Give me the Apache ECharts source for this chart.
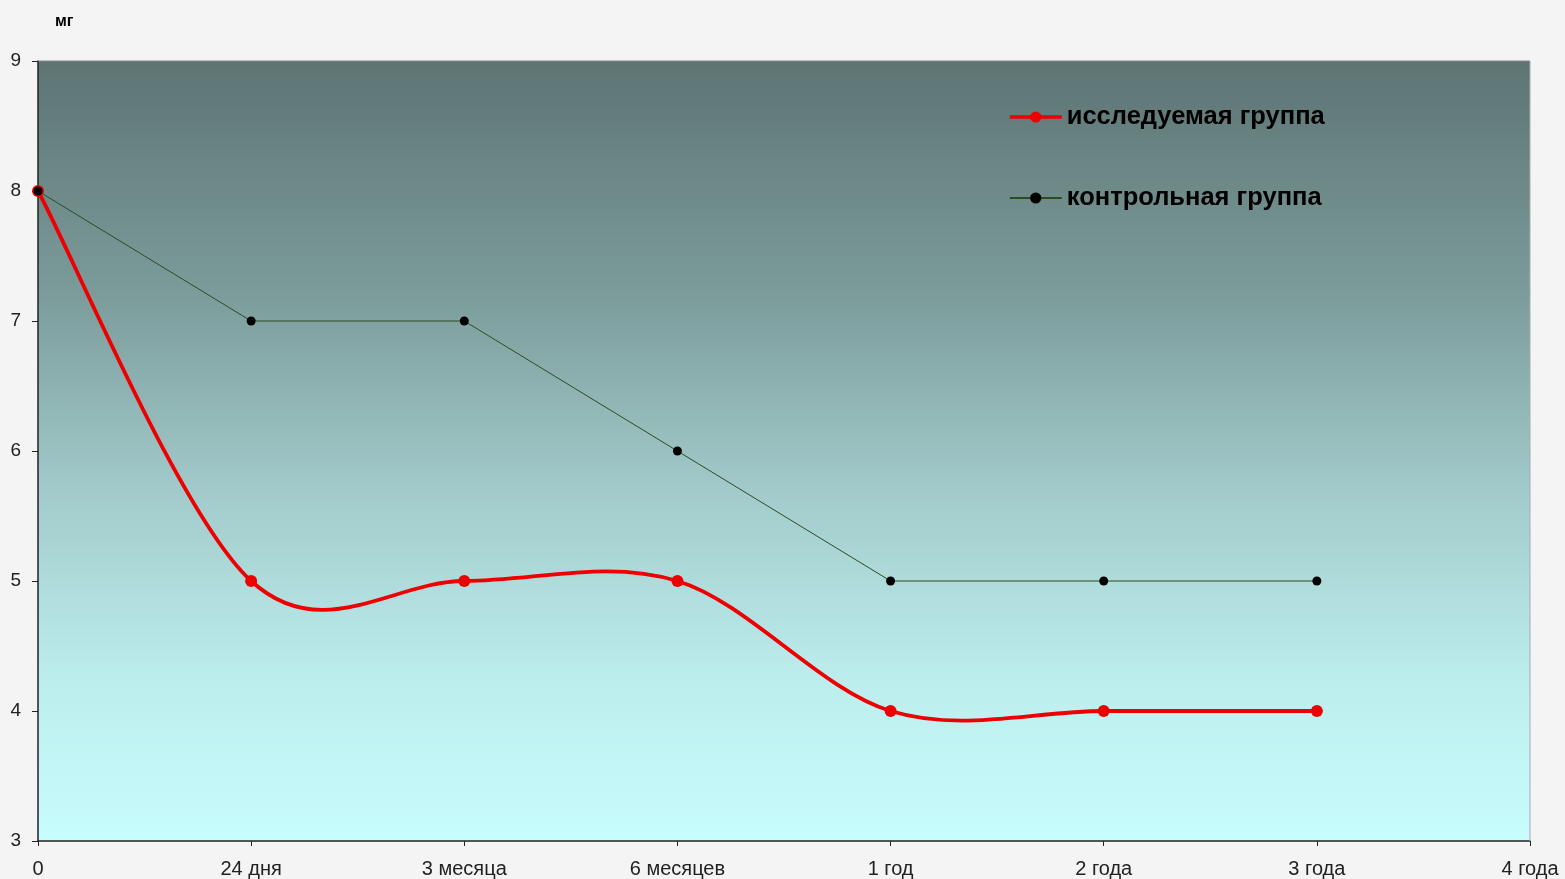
<!DOCTYPE html>
<html><head><meta charset="utf-8">
<script src="https://cdn.jsdelivr.net/npm/echarts@6/dist/echarts.min.js"></script>
<style>html,body{margin:0;padding:0;background:#f4f4f4;}#c{width:1565px;height:879px;}</style>
</head><body><div id="c"></div>
<script>
const categories = ['0','24 дня','3 месяца','6 месяцев','1 год','2 года','3 года','4 года'];
const studyGroup = [8,5,5,5,4,4,4,null];
const controlGroup = [8,7,7,6,5,5,5,null];
const yTicks = [3,4,5,6,7,8,9];

const RED = '#ee0000';
const studyPts = studyGroup.map((v,i)=>[i,v]).filter(p=>p[1]!=null);

function renderSpline(params, api){
  if (params.dataIndex !== 0) return null;
  const pts = studyPts.map(p=>api.coord(p));
  const n = pts.length;
  let d = 'M' + pts[0][0] + ' ' + pts[0][1];
  for (let i=0;i<n-1;i++){
    const p0 = pts[Math.max(i-1,0)], p1 = pts[i], p2 = pts[i+1], p3 = pts[Math.min(i+2,n-1)];
    const c1x = p1[0] + (p2[0]-p0[0])/6, c1y = p1[1] + (p2[1]-p0[1])/6;
    const c2x = p2[0] - (p3[0]-p1[0])/6, c2y = p2[1] - (p3[1]-p1[1])/6;
    d += ' C' + c1x + ' ' + c1y + ' ' + c2x + ' ' + c2y + ' ' + p2[0] + ' ' + p2[1];
  }
  return {type:'path', shape:{pathData:d}, style:{fill:null, stroke:RED, lineWidth:3.8, lineJoin:'round'}};
}

const chart = echarts.init(document.getElementById('c'));
chart.setOption({
  animation:false,
  backgroundColor:'#f4f4f4',
  title:{text:'мг',left:50,top:9,textStyle:{fontFamily:'Liberation Sans, Arial',fontSize:16,fontWeight:'bold',color:'#000'}},
  legend:{
    orient:'vertical', left:1008, top:104, padding:0, itemGap:55, itemWidth:52, itemHeight:14,
    textStyle:{fontFamily:'Liberation Sans, Arial',fontSize:25.5,fontWeight:'bold',color:'#000'},
    data:[
      {name:'исследуемая группа', lineStyle:{color:RED,width:3.5,opacity:1}},
      {name:'контрольная группа'}
    ]
  },
  grid:{left:38,right:35,top:61,bottom:38,show:true,borderWidth:0,
    backgroundColor:new echarts.graphic.LinearGradient(0,0,0,1,[
      {offset:0,color:'#5d7473'},{offset:0.3,color:'#7b9c9b'},{offset:0.55,color:'#a2caca'},
      {offset:0.8,color:'#bdeeee'},{offset:1,color:'#c8fdfd'}])},
  xAxis:{type:'category',data:categories,boundaryGap:false,
    axisLine:{lineStyle:{color:'#222',width:1.5}},
    axisTick:{show:true,length:5,alignWithLabel:true,lineStyle:{color:'#222'}},
    axisLabel:{fontFamily:'Liberation Sans, Arial',fontSize:20,color:'#222',margin:18,showMaxLabel:true},
    splitLine:{show:false}},
  yAxis:{type:'value',min:yTicks[0],max:yTicks[yTicks.length-1],interval:1,
    axisLine:{show:true,lineStyle:{color:'#222',width:1.5}},
    axisTick:{show:true,length:6,lineStyle:{color:'#222'}},
    axisLabel:{fontFamily:'Liberation Sans, Arial',fontSize:19,color:'#222',margin:17},
    splitLine:{show:false}},
  graphic:[
    {type:'line',shape:{x1:38,y1:61,x2:1530,y2:61},style:{stroke:'#888',lineWidth:1},z:10},
    {type:'line',shape:{x1:1530,y1:61,x2:1530,y2:841},style:{stroke:'#aaa',lineWidth:1},z:10}
  ],
  series:[
    {name:'исследуемая группа',type:'line',data:studyGroup,
      symbol:'circle',symbolSize:12,
      lineStyle:{color:RED,width:3.5,opacity:0},itemStyle:{color:RED},z:3},
    {name:'исследуемая группа',type:'custom',data:studyPts,renderItem:renderSpline,z:2,silent:true},
    {name:'контрольная группа',type:'line',data:controlGroup,
      symbol:'circle',symbolSize:9,
      lineStyle:{color:'#2e4a22',width:1},itemStyle:{color:'#000'},z:4}
  ]
});
</script></body></html>
